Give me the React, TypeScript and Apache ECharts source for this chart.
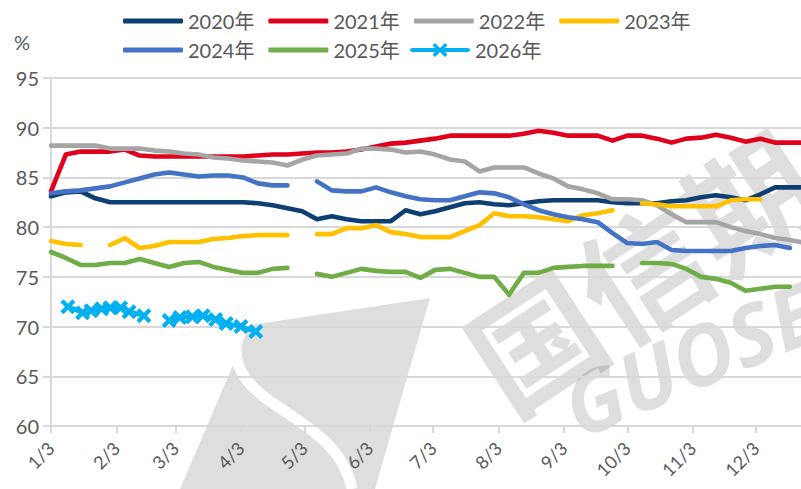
import React, { useEffect, useRef } from "react";
import * as echarts from "echarts";

// x values: day of year (Jan 3 = 3) of weekly observations
const weekDays = [3,10,17,24,31,38,45,52,59,66,73,80,87,94,101,108,115,122,129,136,143,150,157,164,171,178,185,192,199,206,213,220,227,234,241,248,255,262,269,276,283,290,297,304,311,318,325,332,339,346,353,358];

const y2020 = [83.1,83.5,83.6,82.9,82.5,82.5,82.5,82.5,82.5,82.5,82.5,82.5,82.5,82.5,82.4,82.2,81.9,81.6,80.8,81.1,80.8,80.6,80.6,80.6,81.7,81.3,81.6,82.0,82.4,82.5,82.3,82.2,82.4,82.6,82.7,82.7,82.7,82.7,82.5,82.4,82.4,82.4,82.6,82.7,83.0,83.2,83.0,82.7,83.3,84.0,84.0,84.0];
const y2021 = [83.6,87.3,87.6,87.6,87.6,87.8,87.2,87.1,87.1,87.1,87.1,87.1,87.1,87.1,87.2,87.3,87.3,87.4,87.5,87.5,87.6,87.8,88.1,88.4,88.5,88.7,88.9,89.2,89.2,89.2,89.2,89.2,89.4,89.7,89.5,89.2,89.2,89.2,88.7,89.2,89.2,88.9,88.5,88.9,89.0,89.3,89.0,88.6,88.9,88.5,88.5,88.5];
const y2022 = [88.2,88.2,88.2,88.2,87.9,87.9,87.9,87.7,87.6,87.4,87.3,87.0,86.9,86.7,86.6,86.5,86.2,86.8,87.2,87.3,87.4,87.9,87.9,87.8,87.5,87.6,87.3,86.8,86.6,85.6,86.0,86.0,86.0,85.4,84.9,84.1,83.8,83.4,82.8,82.8,82.7,82.2,81.3,80.5,80.5,80.5,80.0,79.6,79.3,78.9,78.7,78.5];
const y2023 = [78.6,78.3,78.2,null,78.2,78.9,77.9,78.1,78.5,78.5,78.5,78.8,78.9,79.1,79.2,79.2,79.2,null,79.3,79.3,79.9,79.9,80.2,79.5,79.3,79.0,79.0,79.0,79.6,80.2,81.4,81.1,81.1,81.0,80.8,80.6,81.2,81.4,81.7,null,82.4,82.3,82.1,82.1,82.1,82.1,82.7,82.8,82.8,null,null,null];
const y2024 = [83.4,83.6,83.7,83.9,84.1,84.5,84.9,85.3,85.5,85.3,85.1,85.2,85.2,85.0,84.4,84.2,84.2,null,84.6,83.7,83.6,83.6,84.0,83.5,83.1,82.8,82.7,82.7,83.1,83.5,83.4,83.0,82.3,81.7,81.3,81.0,80.8,80.5,79.4,78.4,78.3,78.5,77.7,77.6,77.6,77.6,77.6,77.9,78.1,78.2,77.9,null];
const y2025 = [77.5,76.9,76.2,76.2,76.4,76.4,76.8,76.4,76.0,76.4,76.5,76.0,75.7,75.4,75.4,75.8,75.9,null,75.3,75.0,75.4,75.8,75.6,75.5,75.5,74.9,75.7,75.8,75.4,75.0,75.0,73.2,75.4,75.4,75.9,76.0,76.1,76.1,76.1,null,76.4,76.4,76.3,75.8,75.0,74.8,74.4,73.6,73.8,74.0,74.0,null];

const days2026 = [11,18,22,27,31,36,40,47,53,59,64,70,75,81,86,93,100];
const y2026 = [72.0,71.4,71.6,71.8,71.9,71.9,71.5,71.1,null,70.6,70.9,71.0,71.1,70.7,70.3,70.0,69.5];

const monthTicks = [3,34,62,93,123,154,184,215,246,276,307,337];
const monthLabels = ["1/3","2/3","3/3","4/3","5/3","6/3","7/3","8/3","9/3","10/3","11/3","12/3"];

const seriesNames = ["2020年","2021年","2022年","2023年","2024年","2025年","2026年"];
const seriesColors = ["#0D3F73","#E0001B","#A5A5A5","#FFC000","#4472C4","#70AD47","#00B0F0"];
const weeklySeries = [y2020, y2021, y2022, y2023, y2024, y2025];

const FONT = "Lato, 'Noto Sans CJK SC', sans-serif";
const TEXT = "#595959";
const GRID = "#D9D9D9";
const XMARK = "path://M0,2 L2,0 L5,3 L8,0 L10,2 L7,5 L10,8 L8,10 L5,7 L2,10 L0,8 L3,5 Z";
const LEGEND_X = "path://M2,5 L58,5 A2,2 0 0 1 58,9 L2,9 A2,2 0 0 1 2,5 Z M22.5,2.5 L25,0 L30,5 L35,0 L37.5,2.5 L32.5,7 L37.5,11.5 L35,14 L30,9 L25,14 L22.5,11.5 L27.5,7 Z";

export default function App() {
  const ref = useRef<HTMLDivElement>(null);
  useEffect(() => {
    if (!ref.current) return;
    const chart = echarts.init(ref.current, undefined, { renderer: "svg" });
    const series: any[] = weeklySeries.map((vals, k) => ({
      name: seriesNames[k],
      type: "line",
      data: weekDays.map((d, i) => [d, vals[i]]),
      symbol: "none",
      connectNulls: false,
      color: seriesColors[k],
      lineStyle: { width: 4.6, color: seriesColors[k], cap: "round", join: "round" },
      z: 3,
    }));
    series.push({
      name: seriesNames[6],
      type: "line",
      data: days2026.map((d, i) => [d, y2026[i]]),
      symbol: XMARK,
      symbolSize: 15,
      showSymbol: true,
      connectNulls: false,
      color: seriesColors[6],
      itemStyle: { color: seriesColors[6] },
      lineStyle: { width: 4.6, color: seriesColors[6], cap: "round", join: "round" },
      z: 3,
    });
    const textStyle = { fontSize: 20, color: TEXT, fontFamily: FONT, width: 66 };
    chart.setOption({
      animation: false,
      textStyle: { fontFamily: FONT },
      grid: { left: 51, right: 0, top: 78, bottom: 63, containLabel: false },
      legend: [
        { left: 118, top: 6, itemWidth: 60, itemHeight: 5, itemGap: 14, icon: "roundRect", textStyle, data: seriesNames.slice(0, 4) },
        { left: 118, top: 35, itemWidth: 60, itemHeight: 5, itemGap: 14, icon: "roundRect", textStyle, data: seriesNames.slice(4, 6) },
        { left: 405, top: 35, itemWidth: 60, itemHeight: 14, itemGap: 14, icon: LEGEND_X, textStyle, data: seriesNames.slice(6) },
      ],
      xAxis: {
        type: "value",
        min: 3,
        max: 358.3,
        splitLine: { show: false },
        axisLine: { show: true, lineStyle: { color: GRID, width: 2 } },
        axisTick: { show: true, customValues: monthTicks, length: 7, lineStyle: { color: GRID, width: 2 } },
        axisLabel: {
          customValues: monthTicks,
          rotate: 45,
          margin: 19,
          fontSize: 18,
          color: TEXT,
          fontFamily: FONT,
          formatter: (v: number) => monthLabels[monthTicks.indexOf(Math.round(v))] ?? "",
        },
      },
      yAxis: {
        type: "value",
        min: 60,
        max: 95,
        interval: 5,
        axisLine: { show: true, lineStyle: { color: GRID, width: 2 } },
        axisTick: { show: true, length: 8, lineStyle: { color: GRID, width: 2 } },
        splitLine: { show: true, lineStyle: { color: GRID, width: 2 } },
        axisLabel: { fontSize: 20, color: TEXT, fontFamily: FONT, margin: 12 },
      },
      graphic: [
        { type: "text", left: 14, top: 32, style: { text: "%", fontSize: 20, fill: TEXT, fontFamily: FONT } },
        {
          type: "polygon", z: -1, silent: true,
          shape: { points: [[250, 325], [430, 298], [375, 489], [180, 489]] },
          style: { fill: "rgba(0,0,0,0.13)" },
        },
        {
          type: "bezierCurve", z: -1, silent: true,
          shape: { x1: 240, y1: 326, cpx1: 212, cpy1: 410, cpx2: 335, cpy2: 405, x2: 352, y2: 489 },
          style: { stroke: "#ffffff", lineWidth: 11, fill: "none" },
        },
        {
          type: "text", z: -1, silent: true, x: 640, y: 268, rotation: 0.58,
          style: { text: "国信期", fontSize: 128, fontWeight: "bold", fill: "rgba(0,0,0,0.13)", fontFamily: "'Noto Sans CJK SC', sans-serif", align: "center", verticalAlign: "middle" },
        },
        {
          type: "text", z: -1, silent: true, x: 690, y: 358, rotation: 0.4,
          style: { text: "GUOSE", fontSize: 84, fontWeight: "bold", fontStyle: "italic", fill: "rgba(0,0,0,0.13)", fontFamily: "'Open Sans', sans-serif", align: "center", verticalAlign: "middle" },
        },
      ],
      series,
    });
    return () => chart.dispose();
  }, []);
  return <div ref={ref} style={{ position: "absolute", left: 0, top: 0, width: 801, height: 489, background: "#fff" }} />;
}
